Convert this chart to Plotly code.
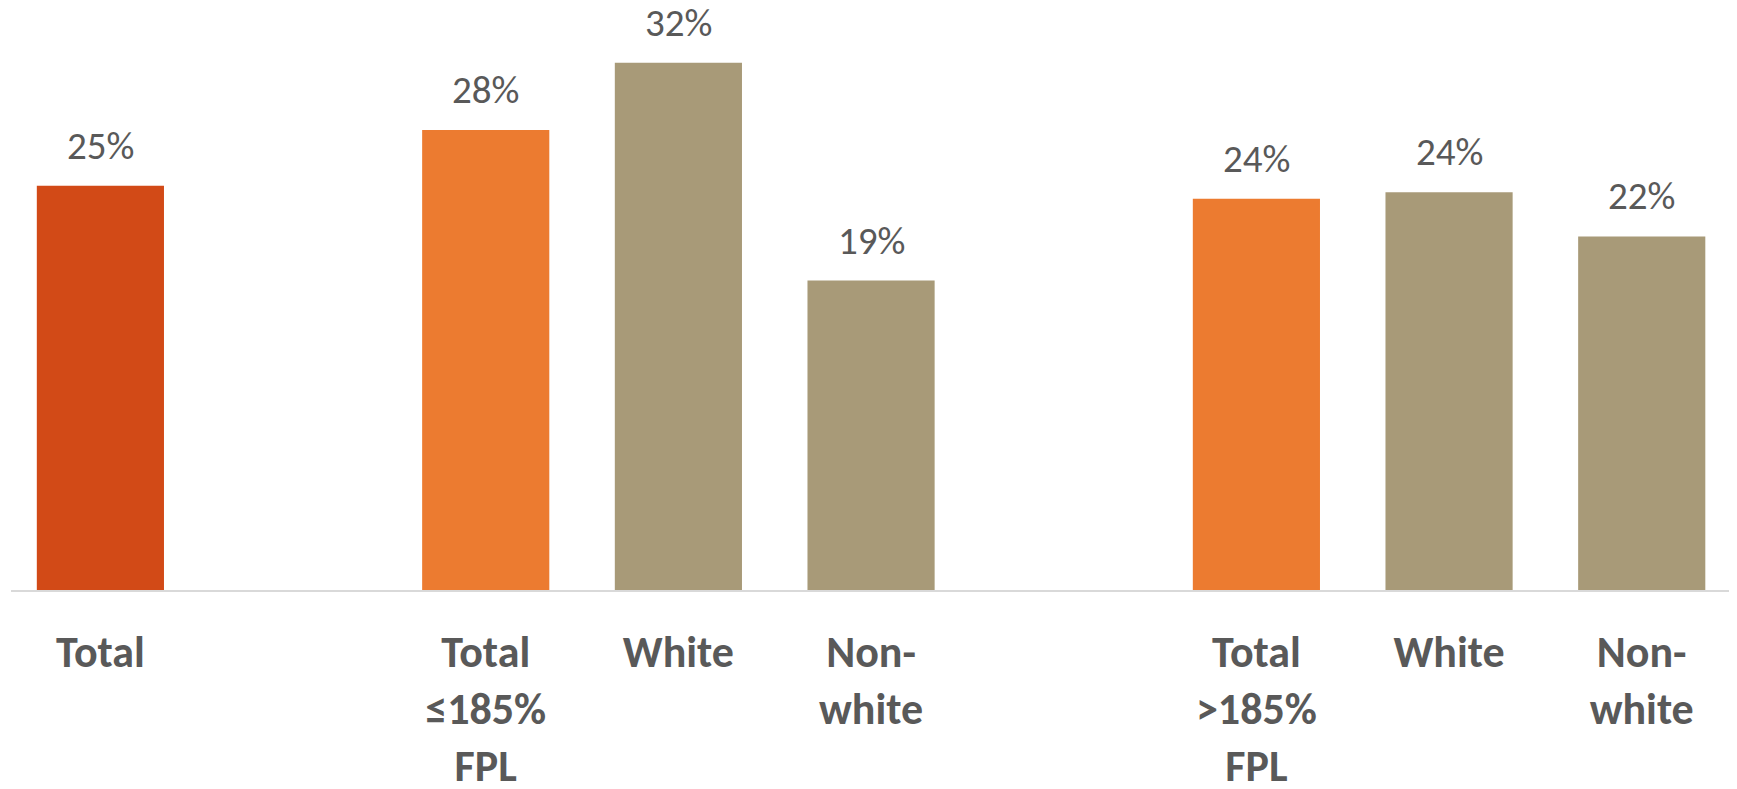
import plotly.graph_objects as go

# Data
categories = ["Total", "Total<br>≤185%<br>FPL", "White", "Non-<br>white",
              "Total<br>>185%<br>FPL", "White", "Non-<br>white"]
slots = [0, 2, 3, 4, 6, 7, 8]  # category slots (gaps between groups)
values = [24.7, 28.1, 32.2, 18.9, 23.9, 24.3, 21.6]
colors = ["#D24A17", "#EC7B30", "#A89A78", "#A89A78", "#EC7B30", "#A89A78", "#A89A78"]

FONT = "Carlito, Calibri, Lato, sans-serif"
TXT = "#595959"

fig = go.Figure()
fig.add_trace(go.Bar(
    x=slots, y=values, width=0.66,
    marker=dict(color=colors, line=dict(width=0)),
    hoverinfo="skip",
))

for xs, v in zip(slots, values):
    fig.add_annotation(
        x=xs, y=v, text=f"{round(v)}%", showarrow=False,
        yanchor="bottom", yshift=15,
        font=dict(family=FONT, size=39, color=TXT),
    )

fig.update_layout(
    width=1737, height=789,
    margin=dict(l=3, r=0, t=0, b=207, autoexpand=False),
    paper_bgcolor="white", plot_bgcolor="white",
    showlegend=False,
    xaxis=dict(
        range=[-0.464, 8.536], tickmode="array", tickvals=slots, ticktext=categories,
        showgrid=False, zeroline=False, automargin=False,
        showline=True, linecolor="#D9D9D9", linewidth=2,
        ticks="outside", ticklen=22, tickcolor="rgba(0,0,0,0)",
        tickfont=dict(family=FONT, size=44, color=TXT, weight="bold"),
        tickangle=0,
    ),
    yaxis=dict(range=[0, 35.55], visible=False, showgrid=False, zeroline=False,
               automargin=False),
)

fig.write_html("out.html")
